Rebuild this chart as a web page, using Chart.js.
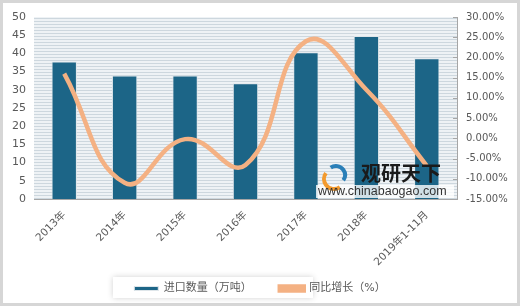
<!DOCTYPE html>
<html>
<head>
<meta charset="utf-8">
<script src="https://cdn.jsdelivr.net/npm/chart.js@4.4.0/dist/chart.umd.min.js"></script>
<style>
  html, body { margin: 0; padding: 0; background: #fff; }
  #wrap { width: 520px; height: 306px; position: relative; }
</style>
</head>
<body>
<div id="wrap"><canvas id="c" width="520" height="306"></canvas></div>
<script>
const labels = ['2013年', '2014年', '2015年', '2016年', '2017年', '2018年', '2019年1-11月'];
const importQty = [37.8, 33.9, 33.9, 31.8, 40.3, 44.8, 38.7];
const growthPct = [16.0, -11.0, -0.2, -6.6, 24.0, 12.0, -6.8];
const leftTicks = [0, 50, 5];
const rightTicks = [-15, 30, 5];

const FONT = 'DejaVu Sans, Noto Sans CJK SC, sans-serif';

// light striped plot background + frame
const backdrop = {
  id: 'backdrop',
  afterLayout(chart) {
    // let the rotated x labels run past the axis box
    chart.scales.x._computeLabelArea = () => null;
  },
  beforeDraw(chart) {
    const { ctx, chartArea: a, width, height } = chart;
    ctx.save();
    ctx.fillStyle = '#ffffff';
    ctx.fillRect(0, 0, width, height);
    ctx.strokeStyle = '#d6d6d6';
    ctx.lineWidth = 3;
    ctx.strokeRect(1.5, 1.5, width - 3, height - 3);
    ctx.fillStyle = '#eef2f5';
    ctx.fillRect(a.left, a.top, a.right - a.left, a.bottom - a.top);
    ctx.fillStyle = '#cdd7de';
    for (let y = a.top + 1; y < a.bottom; y += 3) {
      ctx.fillRect(a.left, y, a.right - a.left, 1);
    }
    // legend box with soft shadow
    ctx.shadowColor = 'rgba(0,0,0,0.18)';
    ctx.shadowBlur = 6;
    ctx.fillStyle = '#fff';
    ctx.fillRect(113, 277, 200, 21);
    ctx.restore();
  },
  afterDraw(chart) {
    // small inward tick marks on the right axis
    const { ctx } = chart;
    const s = chart.scales.y1;
    ctx.save();
    ctx.strokeStyle = '#a6a6a6';
    ctx.lineWidth = 1;
    s.ticks.forEach(t => {
      const y = Math.round(s.getPixelForValue(t.value)) + 0.5;
      ctx.beginPath();
      ctx.moveTo(s.left - 4, y);
      ctx.lineTo(s.left, y);
      ctx.stroke();
    });
    ctx.restore();
  }
};

const watermark = {
  id: 'watermark',
  afterDatasetsDraw(chart) {
    const { ctx } = chart;
    ctx.save();
    ctx.fillStyle = 'rgba(255,255,255,0.8)';
    ctx.fillRect(316, 185, 138, 13);
    // logo swirl
    ctx.lineWidth = 4;
    ctx.strokeStyle = '#f29a2e';
    ctx.beginPath(); ctx.arc(334, 179, 10, 0.3 * Math.PI, 1.2 * Math.PI); ctx.stroke();
    ctx.strokeStyle = '#2a7fb8';
    ctx.beginPath(); ctx.arc(336, 175, 9, 1.3 * Math.PI, 2.2 * Math.PI); ctx.stroke();
    ctx.fillStyle = '#1a1a1a';
    ctx.font = 'bold 20px "Noto Sans CJK SC", sans-serif';
    ctx.textBaseline = 'middle';
    ctx.fillText('观研天下', 361, 173);
    ctx.fillStyle = '#333';
    ctx.font = '12.5px "Liberation Sans", sans-serif';
    ctx.fillText('www.chinabaogao.com', 318, 192);
    ctx.restore();
  }
};

new Chart(document.getElementById('c'), {
  data: {
    labels: labels,
    datasets: [
      {
        type: 'line',
        label: '同比增长（%）',
        data: growthPct,
        yAxisID: 'y1',
        borderColor: '#f4b183',
        backgroundColor: '#f4b183',
        borderWidth: 4.5,
        pointRadius: 0,
        tension: 0.45,
        order: 0
      },
      {
        type: 'bar',
        label: '进口数量（万吨）',
        data: importQty,
        yAxisID: 'y',
        backgroundColor: '#1c6587',
        borderColor: '#dfe6ea',
        borderWidth: 1,
        categoryPercentage: 0.42,
        barPercentage: 1,
        order: 1
      }
    ]
  },
  options: {
    responsive: false,
    animation: false,
    devicePixelRatio: 1,
    layout: { padding: { top: 17, left: 0, right: 0, bottom: 2 } },
    plugins: {
      tooltip: { enabled: false },
      legend: {
        position: 'bottom',
        reverse: true,
        labels: {
          color: '#595959',
          font: { family: FONT, size: 11 },
          boxWidth: 24,
          boxHeight: 4,
          padding: 28
        }
      }
    },
    scales: {
      x: {
        grid: { display: false },
        border: { display: true, color: '#a6a6a6' },
        ticks: {
          color: '#595959',
          font: { family: FONT, size: 10.5 },
          maxRotation: 45,
          minRotation: 45,
          padding: 2
        },
        afterFit(s) { s.height = 56; }
      },
      y: {
        position: 'left',
        min: leftTicks[0], max: leftTicks[1],
        ticks: { stepSize: leftTicks[2], color: '#595959', font: { family: FONT, size: 11 }, padding: 0 },
        grid: { display: false },
        border: { display: false },
        afterFit(s) { s.width = 34; }
      },
      y1: {
        position: 'right',
        min: rightTicks[0], max: rightTicks[1],
        ticks: {
          stepSize: rightTicks[2],
          color: '#595959',
          font: { family: FONT, size: 10 },
          padding: 9,
          callback: v => v.toFixed(2) + '%'
        },
        grid: { drawOnChartArea: false, drawTicks: false },
        border: { display: true, color: '#a6a6a6' },
        afterFit(s) { s.width = 63; }
      }
    }
  },
  plugins: [backdrop, watermark]
});
</script>
</body>
</html>
